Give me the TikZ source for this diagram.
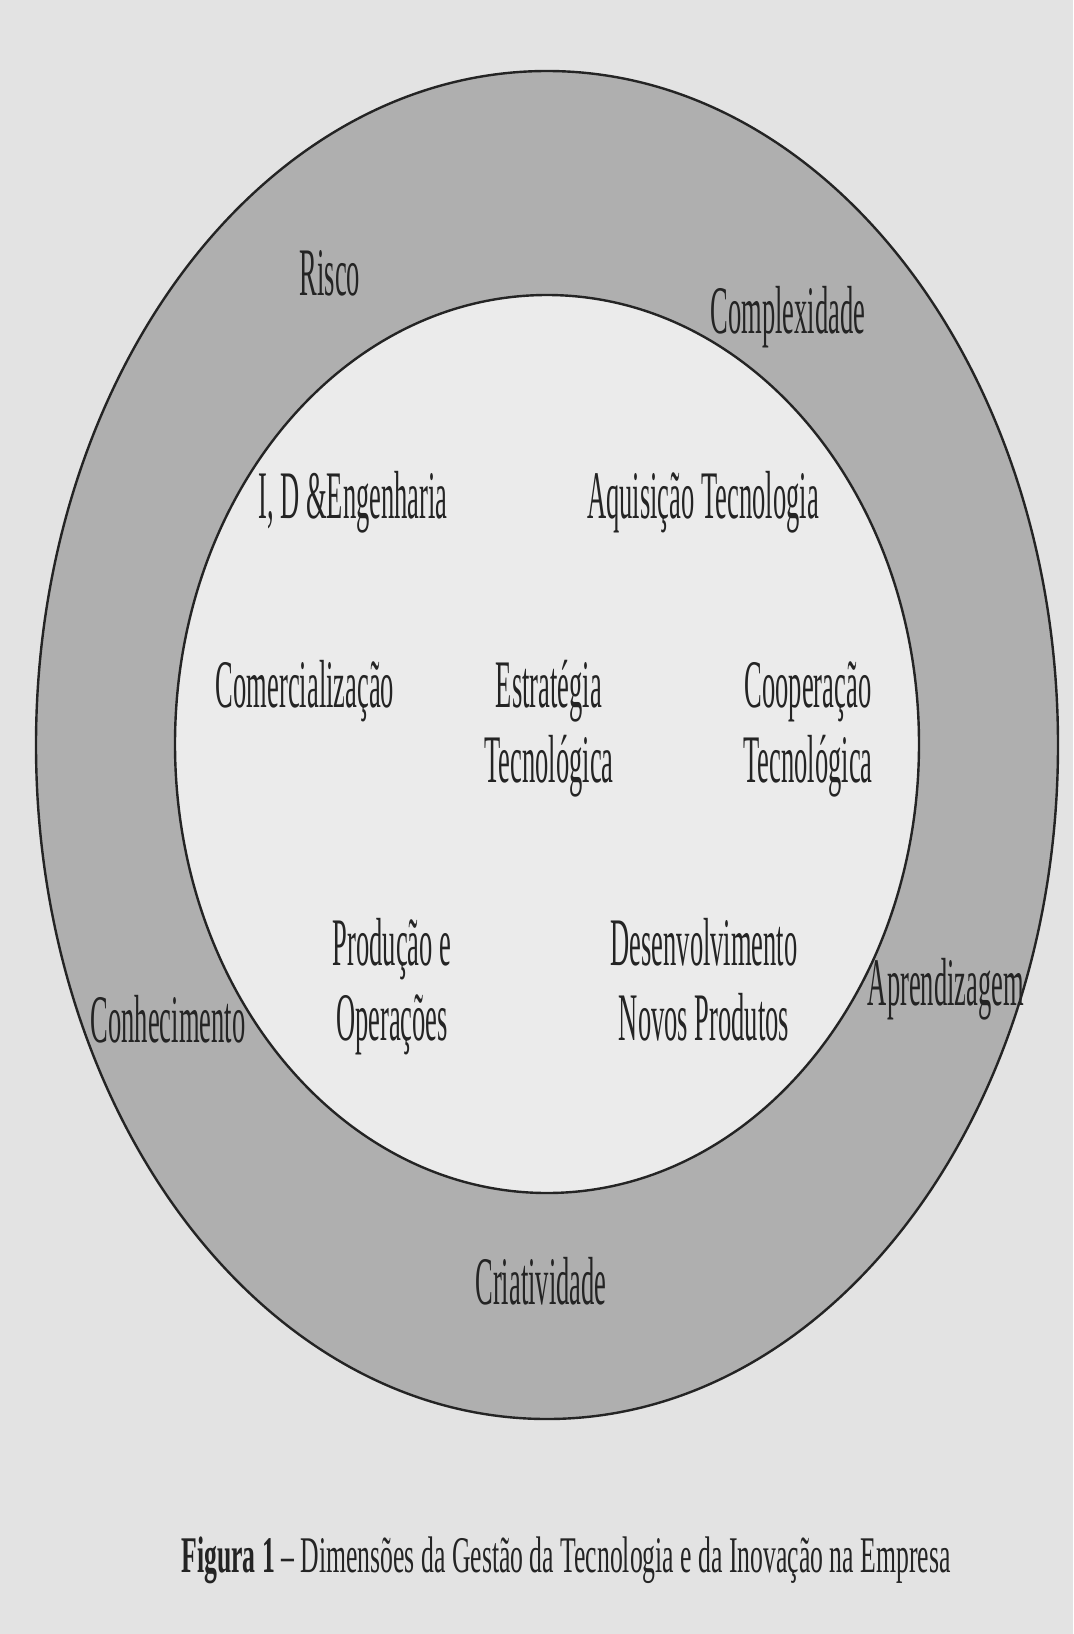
\documentclass[tikz,border=0pt]{standalone}
\usepackage{fontspec}
\newfontfamily\cfont{Liberation Serif}[FakeStretch=0.39]
\newfontfamily\capfont{Liberation Serif}[FakeStretch=0.5]
\definecolor{paper}{HTML}{E3E3E3}
\definecolor{ringgray}{HTML}{AFAFAF}
\definecolor{innergray}{HTML}{EBEBEB}
\definecolor{ink}{HTML}{242424}
\newcommand\twolines[2]{\begin{tabular}[t]{@{}c@{}}#1\\#2\end{tabular}}
\tikzset{
  lab/.style={font=\cfont\fontsize{34}{37.75}\selectfont, text=ink, anchor=base, inner sep=0pt},
  capt/.style={font=\capfont\fontsize{25.7}{30}\selectfont, text=ink, anchor=base, inner sep=0pt},
  rim/.style={draw=ink, line width=1.2pt}
}
\begin{document}
\begin{tikzpicture}[x=0.5pt,y=-0.5pt]
\fill[paper] (0,0) rectangle (1073,1634);
\useasboundingbox (0,0) rectangle (1073,1634);
% rings
\draw[rim, fill=ringgray] (547,745) ellipse [x radius=511, y radius=674];
\draw[rim, fill=innergray] (547,744) ellipse [x radius=372, y radius=449];
% outer ring labels
\node[lab] (risco) at (330,295) {Risco};
\node[lab] (complex) at (788,333) {Complexidade};
\node[lab] (aprend) at (946,1005) {Aprendizagem};
\node[lab] (conhec) at (168,1042) {Conhecimento};
\node[lab] (criat) at (541,1304) {Criatividade};
% inner labels
\node[lab] (ide) at (353,518) {I, D \&Engenharia};
\node[lab] (aquis) at (703,518) {Aquisição Tecnologia};
\node[lab] (comerc) at (305,707) {Comercialização};
\node[lab] (estr) at (549,707) {\twolines{Estratégia}{Tecnológica}};
\node[lab] (coop) at (808,707) {\twolines{Cooperação}{Tecnológica}};
\node[lab] (prod) at (392,965) {\twolines{Produção e}{Operações}};
\node[lab] (desenv) at (704,965) {\twolines{Desenvolvimento}{Novos Produtos}};
% caption
\node[capt] (caption) at (566,1572) {\textbf{Figura 1} – Dimensões da Gestão da Tecnologia e da Inovação na Empresa};
\end{tikzpicture}
\end{document}
